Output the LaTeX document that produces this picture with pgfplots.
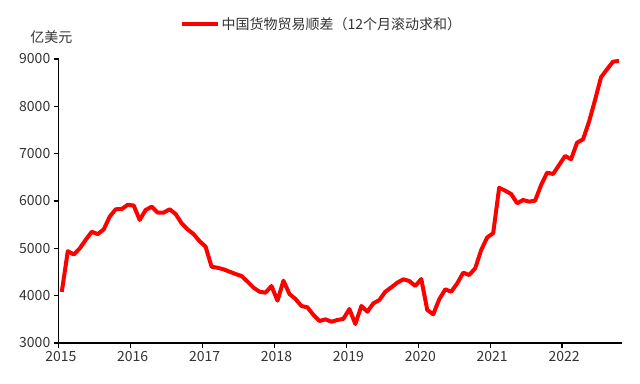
\documentclass[border=0pt]{standalone}
\usepackage{pgfplots}
\pgfplotsset{compat=1.18}
\usepackage{fontspec}
\setmainfont{Noto Sans CJK SC}
\definecolor{lred}{RGB}{255,0,0}
\pgfplotstableread{
x y
0.5 4080
1.5 4940
2.5 4870
3.5 5000
4.5 5180
5.5 5350
6.5 5300
7.5 5400
8.5 5670
9.5 5825
10.5 5830
11.5 5920
12.5 5905
13.5 5600
14.5 5810
15.5 5880
16.5 5755
17.5 5755
18.5 5825
19.5 5725
20.5 5530
21.5 5400
22.5 5300
23.5 5150
24.5 5035
25.5 4612
26.5 4590
27.5 4556
28.5 4507
29.5 4458
30.5 4415
31.5 4296
32.5 4169
33.5 4084
34.5 4063
35.5 4204
36.5 3894
37.5 4317
38.5 4035
39.5 3930
40.5 3782
41.5 3754
42.5 3592
43.5 3465
44.5 3500
45.5 3450
46.5 3486
47.5 3510
48.5 3718
49.5 3401
50.5 3782
51.5 3662
52.5 3838
53.5 3908
54.5 4084
55.5 4176
56.5 4275
57.5 4345
58.5 4310
59.5 4204
60.5 4352
61.5 3697
62.5 3606
63.5 3923
64.5 4134
65.5 4084
66.5 4260
67.5 4486
68.5 4437
69.5 4578
70.5 4965
71.5 5230
72.5 5320
73.5 6280
74.5 6218
75.5 6148
76.5 5952
77.5 6021
78.5 5986
79.5 6007
80.5 6338
81.5 6598
82.5 6571
83.5 6761
84.5 6951
85.5 6881
86.5 7232
87.5 7303
88.5 7676
89.5 8134
90.5 8614
91.5 8783
92.5 8944
93.5 8958
}\datatable
\begin{document}
\begin{tikzpicture}
\path[use as bounding box] (-58.8bp,-41bp) rectangle (581.2bp,343bp);
\begin{axis}[
  at={(0,0)}, anchor=origin,
  scale only axis,
  width=563.2bp, height=284bp,
  xmin=0, xmax=94,
  ymin=3000, ymax=9000,
  axis lines=left,
  axis line style={black, line width=1.2bp, -},
  xtick={0,12,24,36,48,60,72,84},
  xticklabels={2015,2016,2017,2018,2019,2020,2021,2022},
  ytick={3000,4000,5000,6000,7000,8000,9000},
  tick align=outside,
  major tick length=5bp,
  tick style={black, line width=1.2bp},
  every tick label/.append style={font=\fontsize{14bp}{16bp}\selectfont, text=black!80},
  /pgf/number format/assume math mode=true,
  scaled y ticks=false,
  yticklabel style={/pgf/number format/.cd, 1000 sep={}},
  xticklabel style={xshift=2bp},
  clip=false,
  legend style={at={(axis description cs:0.2152,1.122)}, anchor=west, draw=none, fill=none,
    inner sep=0pt, font=\fontsize{14bp}{16bp}\selectfont, text=black!80,
    nodes={inner sep=1.5bp}},
  legend image code/.code={\draw[#1, line cap=butt] (0bp,0bp) -- (36bp,0bp);},
]
\addplot[lred, line width=4bp, line join=round, no marks] table[x=x,y=y] {\datatable};
\addlegendentry{中国货物贸易顺差（12个月滚动求和）}
\node[font=\fontsize{14bp}{16bp}\selectfont, text=black!80] at (axis description cs:-0.013,1.0775) {亿美元};
\end{axis}
\end{tikzpicture}
\end{document}
